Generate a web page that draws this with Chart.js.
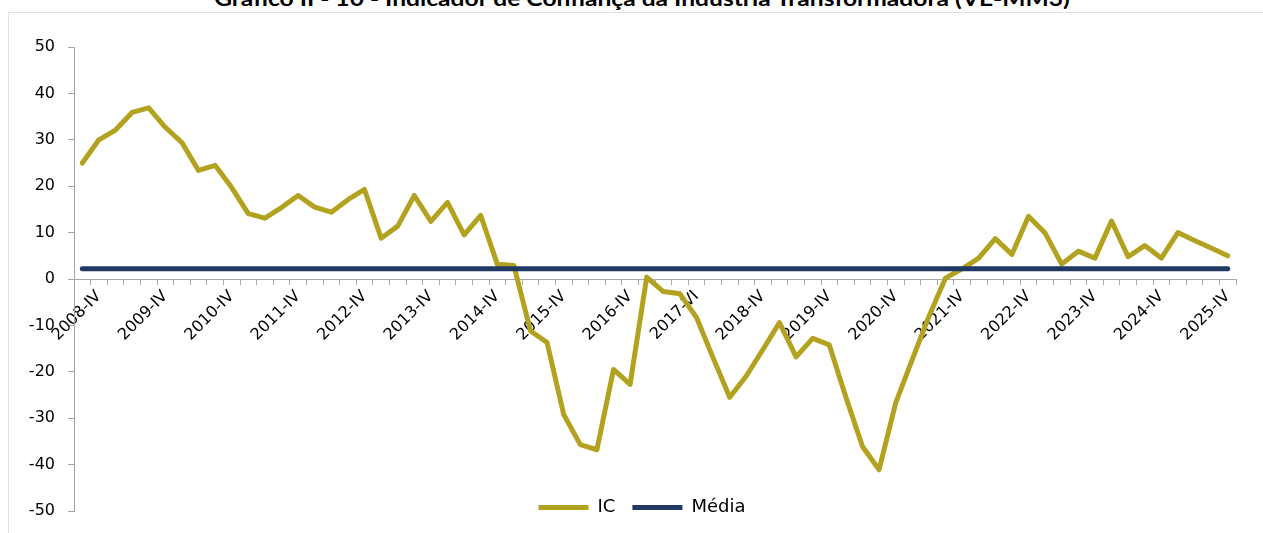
<!DOCTYPE html>
<html lang="pt">
<head>
<meta charset="utf-8">
<title>Indicador de Confiança da Indústria Transformadora</title>
<script src="https://cdn.jsdelivr.net/npm/chart.js@4/dist/chart.umd.min.js"></script>
<style>
  html, body { margin: 0; padding: 0; background: #fff; overflow: hidden; }
  body { width: 1263px; height: 533px; position: relative; }
  #titulo {
    position: absolute; left: 0; width: 1284px; top: -14px;
    text-align: center; white-space: nowrap;
    font: bold 20px Lato, sans-serif; color: #000;
    transform: scaleX(1.23); transform-origin: 642px 0;
  }
  #moldura {
    position: absolute; left: 8px; top: 12px; width: 1300px; height: 600px;
    border: 1px solid #e2e2e2;
  }
  #wrap { position: absolute; left: 0; top: 0; width: 1263px; height: 580px; }
</style>
</head>
<body>
<div id="titulo">Gráfico II - 10 - Indicador de Confiança da Indústria Transformadora (VE-MM3)</div>
<div id="moldura"></div>
<div id="wrap"><canvas id="grafico"></canvas></div>
<script>
// trimestres de 2008-III a 2025-IV
const trimestres = [];
for (let ano = 2008; ano <= 2025; ano++) {
  ['I', 'II', 'III', 'IV'].forEach(q => trimestres.push(ano + '-' + q));
}
trimestres.splice(0, 2);

// rótulos visíveis no eixo (um por ano, no 4º trimestre)
const rotulos = ['2008-IV', '2009-IV', '2010-IV', '2011-IV', '2012-IV', '2013-IV',
  '2014-IV', '2015-IV', '2016-IV', '2017-VI', '2018-IV', '2019-IV', '2020-IV',
  '2021-IV', '2022-IV', '2023-IV', '2024-IV', '2025-IV'];

// Indicador de Confiança (IC)
const ic = [
  25.0, 30.0, 32.1, 35.9, 36.9, 32.7, 29.4, 23.4, 24.5, 19.7,
  14.1, 13.1, 15.4, 18.0, 15.5, 14.4, 17.1, 19.3, 8.8, 11.4,
  18.0, 12.4, 16.5, 9.5, 13.7, 3.2, 2.9, -11.2, -13.7, -29.2,
  -35.7, -36.8, -19.5, -22.7, 0.4, -2.7, -3.2, -8.3, -17.0, -25.5,
  -20.9, -15.2, -9.4, -16.8, -12.8, -14.2, -25.5, -36.1, -41.1, -26.7,
  -17.3, -8.1, 0.2, 2.2, 4.5, 8.7, 5.3, 13.5, 9.9, 3.2,
  6.0, 4.5, 12.5, 4.8, 7.2, 4.5, 10.0, 8.3, 6.7, 5.0
];

// média do período
const media = 2.2;

const corIC = '#b3a21f';
const corMedia = '#1f3864';
const corEixo = '#a6a6a6';
const fonte = 'DejaVu Sans';

// a legenda fica dentro da área do gráfico, junto ao fundo
const legendaNoGrafico = {
  id: 'legendaNoGrafico',
  afterLayout(chart) {
    const lg = chart.legend;
    const h = lg.bottom - lg.top;
    lg.top = chart.chartArea.bottom - 7 - h / 2;
    lg.bottom = lg.top + h;
    lg.left -= 13;
    lg.right -= 13;
  }
};

const ctx = document.getElementById('grafico').getContext('2d');
new Chart(ctx, {
  type: 'line',
  data: {
    labels: trimestres,
    datasets: [{
      label: 'IC',
      data: ic,
      borderColor: corIC,
      backgroundColor: corIC,
      borderWidth: 5,
      borderCapStyle: 'round',
      borderJoinStyle: 'round',
      pointRadius: 0,
      tension: 0,
      order: 1
    }, {
      label: 'Média',
      data: [
        { x: trimestres[0], y: media },
        { x: trimestres[trimestres.length - 1], y: media }
      ],
      borderColor: corMedia,
      backgroundColor: corMedia,
      borderWidth: 5,
      borderCapStyle: 'round',
      pointRadius: 0,
      order: 0
    }]
  },
  options: {
    responsive: true,
    maintainAspectRatio: false,
    animation: false,
    layout: { padding: { top: 47, right: 27, bottom: 24, left: 0 } },
    scales: {
      x: {
        position: { y: 0 },
        offset: true,
        grid: {
          offset: true,
          drawOnChartArea: false,
          tickLength: 5,
          tickColor: corEixo
        },
        border: { color: corEixo, width: 1 },
        ticks: {
          autoSkip: false,
          minRotation: 45,
          maxRotation: 45,
          padding: 3,
          color: '#000',
          font: { family: fonte, size: 16 },
          callback: (v, i) => (i % 4 === 1 ? rotulos[(i - 1) / 4] : '')
        }
      },
      y: {
        min: -50,
        max: 50,
        afterFit: s => { s.width = 74; },
        grid: {
          drawOnChartArea: false,
          tickLength: 6,
          tickColor: corEixo
        },
        border: { color: corEixo, width: 1 },
        ticks: {
          stepSize: 10,
          padding: 13,
          color: '#000',
          font: { family: fonte, size: 16 }
        }
      }
    },
    plugins: {
      title: { display: false },
      tooltip: { enabled: false },
      legend: {
        position: 'bottom',
        fullSize: false,
        labels: {
          usePointStyle: true,
          pointStyle: 'line',
          pointStyleWidth: 50,
          padding: 17,
          color: '#000',
          font: { family: fonte, size: 18 },
          sort: (a, b) => a.datasetIndex - b.datasetIndex
        }
      }
    }
  },
  plugins: [legendaNoGrafico]
});
</script>
</body>
</html>
